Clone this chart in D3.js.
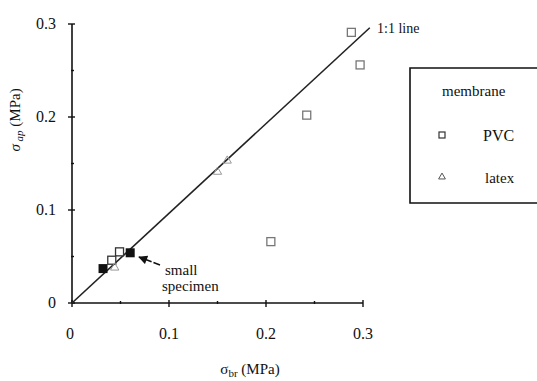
<!DOCTYPE html>
<html><head><meta charset="utf-8">
<script src="https://cdn.jsdelivr.net/npm/d3@7"></script>
<style>body{margin:0;background:#fff}text{font-family:"Liberation Serif","DejaVu Serif",serif;fill:#111}</style>
</head><body><svg id="c" width="537" height="381"></svg>
<script>
const xTicks=[0,0.1,0.2,0.3];
const yTicks=[0,0.1,0.2,0.3];
const minorTicks=[0.05,0.15,0.25];
const pvcX=[0.288,0.297,0.242,0.205,0.049,0.041];
const pvcY=[0.291,0.256,0.202,0.066,0.055,0.046];
const smallX=[0.060,0.032];
const smallY=[0.054,0.037];
const latexX=[0.150,0.160,0.044];
const latexY=[0.141,0.153,0.038];
const lineX=[0,0.307];
const lineY=[0,0.296];

const svg=d3.select("#c");
const x=d3.scaleLinear().domain([0,0.3]).range([72,363]);
const y=d3.scaleLinear().domain([0,0.3]).range([303,24]);
const g=svg.append("g");
g.append("line").attr("x1",x(0)).attr("x2",x(0.3)).attr("y1",y(0)).attr("y2",y(0)).attr("stroke","#111").attr("stroke-width",1.6);
g.append("line").attr("x1",x(0)).attr("x2",x(0)).attr("y1",y(0)).attr("y2",y(0.3)).attr("stroke","#111").attr("stroke-width",1.6);
xTicks.concat(minorTicks).forEach(t=>{
  const major=xTicks.includes(t);
  g.append("line").attr("x1",x(t)).attr("x2",x(t)).attr("y1",y(0)-(major?3:2)).attr("y2",y(0)+(major?4:1)).attr("stroke","#111").attr("stroke-width",1.4);
});
yTicks.concat(minorTicks).forEach(t=>{
  const major=yTicks.includes(t);
  g.append("line").attr("y1",y(t)).attr("y2",y(t)).attr("x1",x(0)-(major?4:1)).attr("x2",x(0)+(major?3:2)).attr("stroke","#111").attr("stroke-width",1.4);
});
const fmt=d=>d===0?"0":String(d);
xTicks.forEach(t=>g.append("text").attr("x",x(t)+(t===0?-2:0)).attr("y",339).attr("text-anchor","middle").attr("font-size",16).text(fmt(t)));
yTicks.forEach(t=>g.append("text").attr("x",56).attr("y",y(t)+5).attr("text-anchor","end").attr("font-size",16).text(fmt(t)));
const xl=g.append("text").attr("x",250).attr("y",374).attr("text-anchor","middle").attr("font-size",15);
xl.append("tspan").text("σ");
xl.append("tspan").attr("font-size",11).attr("dy",3).text("br");
xl.append("tspan").attr("dy",-3).text("  (MPa)");
const yl=g.append("text").attr("transform","translate(20,120) rotate(-90)").attr("text-anchor","middle").attr("font-size",15);
yl.append("tspan").attr("font-style","italic").text("σ");
yl.append("tspan").attr("font-size",11).attr("dy",3).attr("font-style","italic").text(" ap");
yl.append("tspan").attr("dy",-3).text("   (MPa)");
g.append("line").attr("x1",x(lineX[0])).attr("y1",y(lineY[0])).attr("x2",x(lineX[1])).attr("y2",y(lineY[1])).attr("stroke","#222").attr("stroke-width",1.6);
g.append("text").attr("x",377).attr("y",33).attr("font-size",14).text("1:1 line");
pvcX.forEach((v,i)=>{
  g.append("rect").attr("x",x(v)-4).attr("y",y(pvcY[i])-4).attr("width",8).attr("height",8).attr("fill","#fff").attr("stroke",i<4?"#777":"#333").attr("stroke-width",1.3);
});
smallX.forEach((v,i)=>{
  g.append("rect").attr("x",x(v)-4.5).attr("y",y(smallY[i])-4.5).attr("width",9).attr("height",9).attr("fill","#111");
});
const tri=d3.symbol().type(d3.symbolTriangle).size(30);
latexX.forEach((v,i)=>{
  g.append("path").attr("d",tri()).attr("transform",`translate(${x(v)},${y(latexY[i])})`).attr("fill","none").attr("stroke","#999").attr("stroke-width",1);
});
svg.append("defs").append("marker").attr("id","ah").attr("viewBox","0 0 10 10").attr("refX",9).attr("refY",5).attr("markerWidth",7).attr("markerHeight",6).attr("orient","auto")
  .append("path").attr("d","M0,0L10,5L0,10z").attr("fill","#111");
g.append("line").attr("x1",160).attr("y1",265).attr("x2",139).attr("y2",257).attr("stroke","#111").attr("stroke-width",1.5).attr("stroke-dasharray","7,2").attr("marker-end","url(#ah)");
g.append("text").attr("x",165).attr("y",275).attr("font-size",15).text("small");
g.append("text").attr("x",162).attr("y",291).attr("font-size",15).text("specimen");
g.append("path").attr("d","M537,68H410V203H537").attr("fill","none").attr("stroke","#111").attr("stroke-width",1.6);
g.append("text").attr("x",442).attr("y",96).attr("font-size",15).text("membrane");
g.append("rect").attr("x",439).attr("y",132).attr("width",6).attr("height",6).attr("fill","#fff").attr("stroke","#333").attr("stroke-width",1.2);
g.append("text").attr("x",483).attr("y",141).attr("font-size",16).text("PVC");
g.append("path").attr("d",d3.symbol().type(d3.symbolTriangle).size(20)()).attr("transform","translate(442,177)").attr("fill","none").attr("stroke","#555");
g.append("text").attr("x",485).attr("y",183).attr("font-size",15).text("latex");
</script></body></html>
